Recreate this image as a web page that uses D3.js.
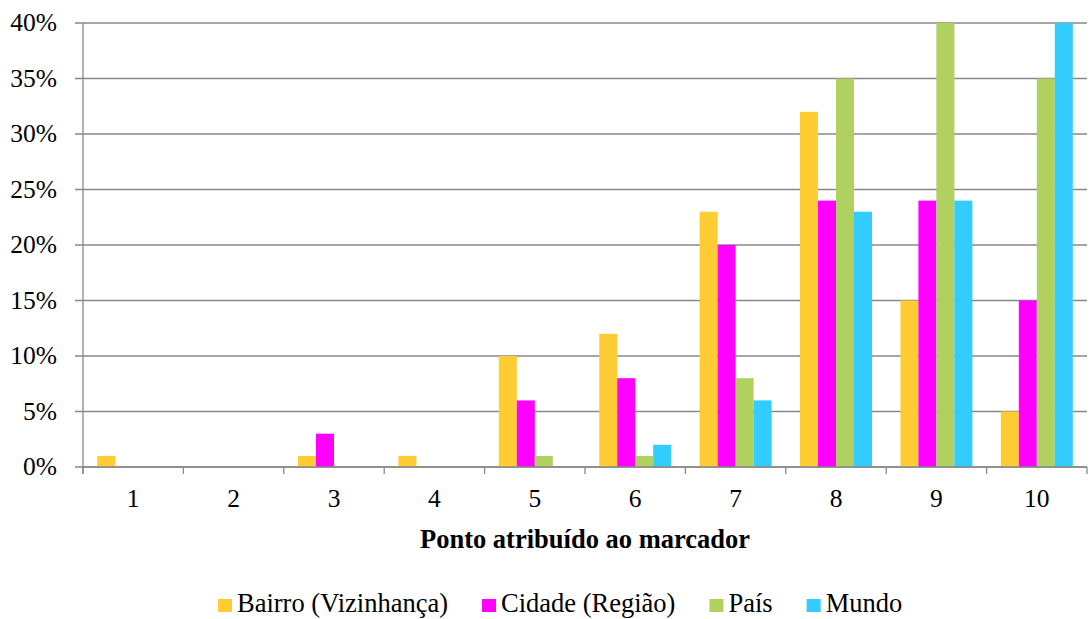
<!DOCTYPE html>
<html><head><meta charset="utf-8">
<script src="https://cdn.jsdelivr.net/npm/d3@7"></script>
<style>body{margin:0;background:#fff}svg{display:block}</style>
</head><body><svg id="c" width="1091" height="619" font-family="'Liberation Serif','Times New Roman',serif"></svg>
<script>
const categories = ["1","2","3","4","5","6","7","8","9","10"];
const seriesNames = ["Bairro (Vizinhança)","Cidade (Região)","País","Mundo"];
const seriesColors = ["#FFCC33","#FF00FF","#B0D060","#33CCFF"];
const bairro = [1,0,1,1,10,12,23,32,15,5];
const cidade = [0,0,3,0,6,8,20,24,24,15];
const pais   = [0,0,0,0,1,1,8,35,40,35];
const mundo  = [0,0,0,0,0,2,6,23,24,40];
const yTicks = [0,5,10,15,20,25,30,35,40];
const xTitle = "Ponto atribuído ao marcador";
const seriesValues = [bairro,cidade,pais,mundo];

const svg = d3.select("#c");
const L=83,R=1087,T=23,B=467;
const x0 = d3.scaleBand().domain(categories).range([L,R]).padding(0);
const bw = x0.bandwidth();
const x1 = d3.scaleBand().domain(seriesNames).range([bw*0.1416, bw*0.8584]).padding(0);
const y = d3.scaleLinear().domain([0,40]).range([B,T]);

svg.append("g").selectAll("line").data(yTicks).join("line")
  .attr("x1",L-8).attr("x2",R).attr("y1",d=>y(d)).attr("y2",d=>y(d))
  .attr("stroke","#888").attr("stroke-width",1.3);
svg.append("g").selectAll("text").data(yTicks).join("text")
  .attr("x",57).attr("y",d=>y(d)+8).attr("text-anchor","end")
  .attr("font-size",25.5).text(d=>d+"%");

const g = svg.append("g");
seriesNames.forEach((s,i)=>{
  g.append("g").selectAll("rect").data(categories).join("rect")
   .attr("x",(c)=>x0(c)+x1(s)).attr("width",x1.bandwidth())
   .attr("y",(c,j)=>y(seriesValues[i][j])).attr("height",(c,j)=>B-y(seriesValues[i][j]))
   .attr("fill",seriesColors[i]);
});

svg.append("line").attr("x1",L).attr("x2",L).attr("y1",T).attr("y2",B+7).attr("stroke","#888").attr("stroke-width",1.3);
svg.append("line").attr("x1",L).attr("x2",R).attr("y1",B).attr("y2",B).attr("stroke","#888").attr("stroke-width",1.3);
const bounds = categories.map(c=>x0(c)).concat([R]);
svg.append("g").selectAll("line").data(bounds).join("line")
  .attr("x1",d=>d).attr("x2",d=>d).attr("y1",B).attr("y2",B+7).attr("stroke","#888").attr("stroke-width",1.3);
svg.append("g").selectAll("text").data(categories).join("text")
  .attr("x",c=>x0(c)+bw/2).attr("y",507).attr("text-anchor","middle").attr("font-size",25.5).text(c=>c);
svg.append("text").attr("x",(L+R)/2).attr("y",548).attr("text-anchor","middle")
  .attr("font-size",26.5).attr("font-weight","bold").text(xTitle);

const lg = svg.append("g").attr("transform","translate(218,612)");
let cx = 0;
seriesNames.forEach((s,i)=>{
  const it = lg.append("g");
  it.append("rect").attr("x",cx).attr("y",-13).attr("width",14).attr("height",13).attr("fill",seriesColors[i]);
  const t = it.append("text").attr("x",cx+19).attr("y",0).attr("font-size",26.5).text(s);
  const w = t.node().getComputedTextLength();
  cx += 19 + w + 34;
});
</script></body></html>
